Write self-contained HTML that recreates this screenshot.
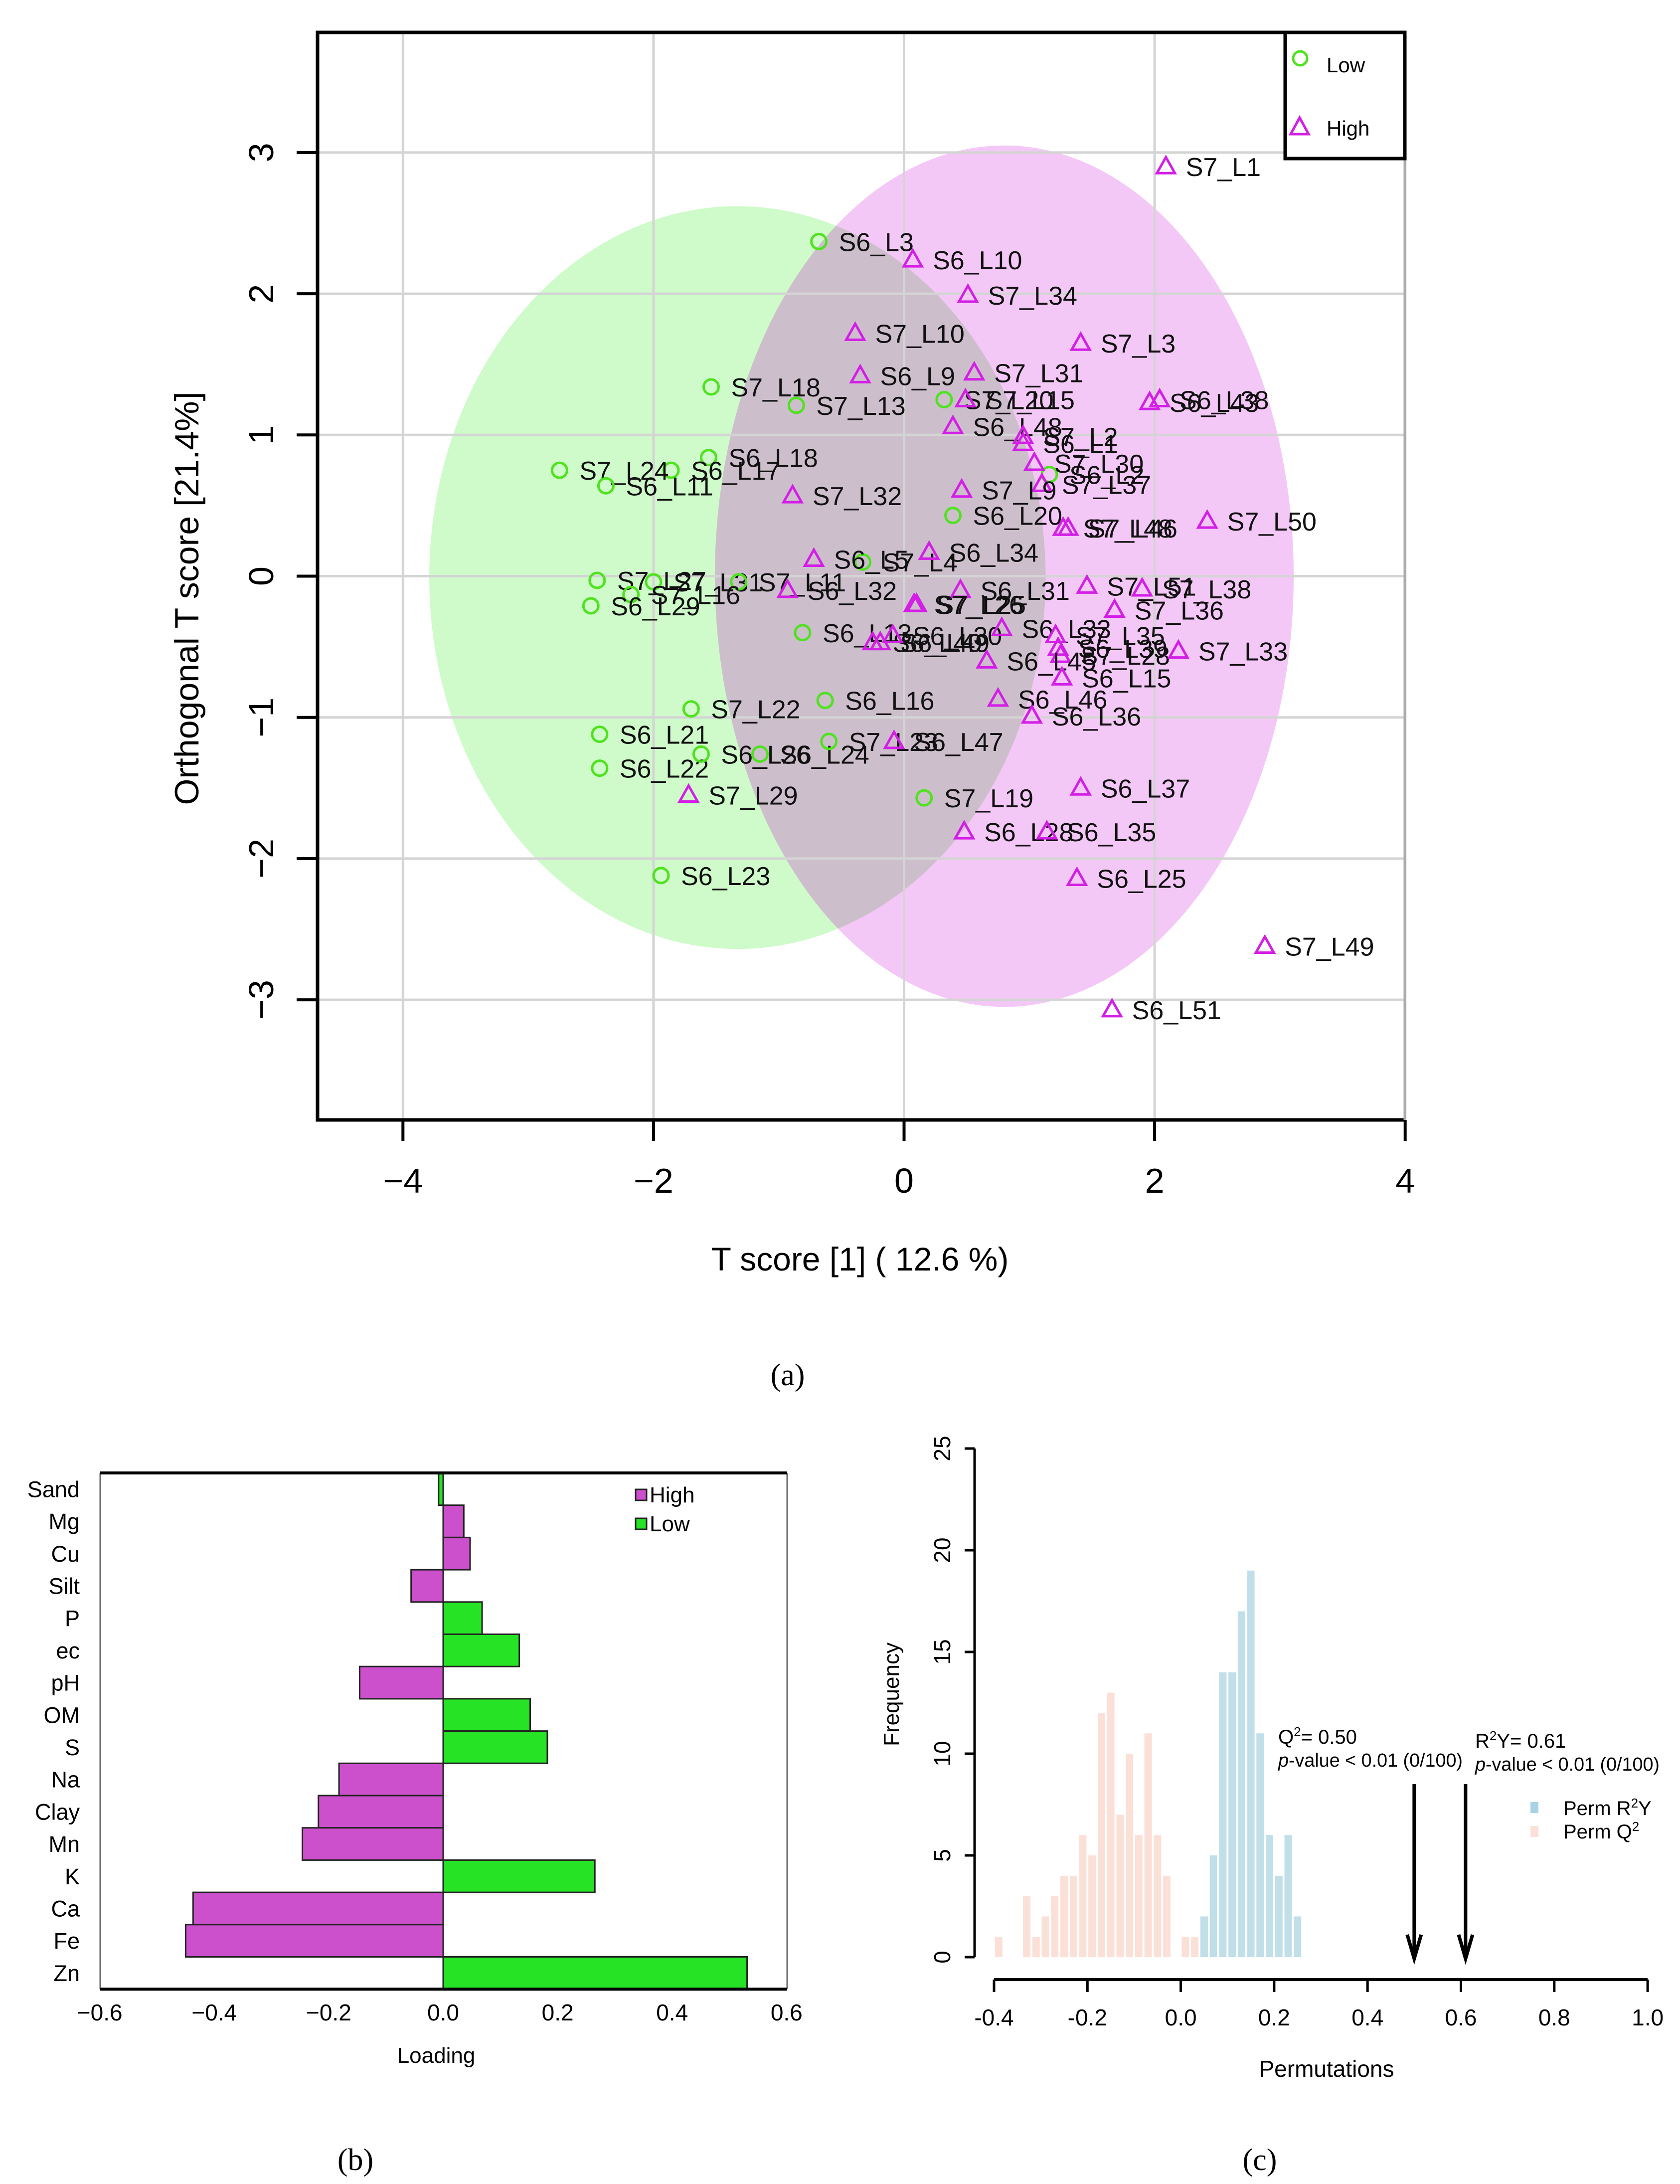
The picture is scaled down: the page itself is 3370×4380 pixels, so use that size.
<!DOCTYPE html>
<html><head><meta charset="utf-8"><style>
html,body{margin:0;padding:0;background:#fff;}
svg{display:block;}
text{font-family:"Liberation Sans",sans-serif;}
</style></head><body>
<svg id="fig" xmlns="http://www.w3.org/2000/svg" width="3370" height="4380" viewBox="0 0 3370 4380">
<rect x="0" y="0" width="3370" height="4380" fill="#fff"/>
<g id="pa"></g>
<g id="pb"></g>
<g id="pc"></g>
</svg>
<script>
// ---------- Panel (a) data ----------
const lowNames = ["S6_L3","S7_L18","S7_L13","S7_L20","S6_L18","S6_L17","S7_L24","S6_L11","S6_L20","S7_L4","S6_L2","S7_L27","S7_L31","S7_L11","S7_L16","S6_L29","S6_L13","S7_L22","S6_L16","S6_L21","S6_L22","S6_L26","S6_L24","S7_L23","S7_L19","S6_L23"];
const lowX = [-0.68,-1.54,-0.86,0.32,-1.56,-1.86,-2.75,-2.38,0.39,-0.33,1.16,-2.45,-2.00,-1.32,-2.18,-2.50,-0.81,-1.70,-0.63,-2.43,-2.43,-1.62,-1.15,-0.60,0.16,-1.94];
const lowY = [2.37,1.34,1.21,1.25,0.84,0.75,0.75,0.64,0.43,0.10,0.72,-0.03,-0.04,-0.04,-0.13,-0.21,-0.40,-0.94,-0.88,-1.12,-1.36,-1.26,-1.26,-1.17,-1.57,-2.12];
const highNames = ["S7_L1","S6_L10","S7_L34","S7_L10","S7_L3","S6_L9","S7_L31","S7_L15","S6_L43","S6_L38","S6_L48","S7_L2","S6_L1","S7_L30","S7_L37","S7_L32","S7_L9","S7_L48","S7_L46","S7_L50","S6_L34","S6_L5","S6_L32","S6_L31","S7_L26","S7_L25","S7_L51","S7_L38","S7_L36","S6_L40","S6_L49","S6_L30","S6_L33","S7_L35","S6_L39","S7_L28","S6_L45","S7_L33","S6_L15","S6_L46","S6_L36","S6_L47","S7_L29","S6_L37","S6_L28","S6_L35","S6_L25","S7_L49","S6_L51"];
const highX = [2.09,0.07,0.51,-0.39,1.41,-0.35,0.56,0.49,1.96,2.04,0.39,0.95,0.95,1.04,1.10,-0.89,0.46,1.27,1.31,2.42,0.20,-0.72,-0.93,0.45,0.08,0.10,1.46,1.90,1.68,-0.25,-0.19,-0.09,0.78,1.21,1.23,1.25,0.66,2.19,1.26,0.75,1.02,-0.08,-1.72,1.41,0.48,1.14,1.38,2.88,1.66];
const highY = [2.90,2.24,1.99,1.72,1.65,1.42,1.44,1.25,1.23,1.25,1.06,0.99,0.94,0.80,0.65,0.57,0.61,0.34,0.34,0.39,0.17,0.12,-0.10,-0.10,-0.20,-0.20,-0.07,-0.09,-0.24,-0.47,-0.47,-0.42,-0.37,-0.42,-0.51,-0.56,-0.60,-0.53,-0.72,-0.87,-0.99,-1.17,-1.55,-1.50,-1.81,-1.81,-2.14,-2.62,-3.07];
const ellipseCx = [-1.33, 0.80];
const ellipseCy = [-0.01, 0.00];
const ellipseRx = [2.46, 2.31];
const ellipseRy = [2.63, 3.05];
const aXTicks = [-4,-2,0,2,4];
const aYTicks = [-3,-2,-1,0,1,2,3];
// ---------- Panel (b) data ----------
const bCats = ["Sand","Mg","Cu","Silt","P","ec","pH","OM","S","Na","Clay","Mn","K","Ca","Fe","Zn"];
const bVals = [-0.008,0.036,0.047,-0.056,0.068,0.133,-0.146,0.152,0.182,-0.182,-0.218,-0.246,0.265,-0.437,-0.450,0.531];
const bGroup = ["Low","High","High","High","Low","Low","High","Low","Low","High","High","High","Low","High","High","Low"];
const bTicks = [-0.6,-0.4,-0.2,0.0,0.2,0.4,0.6];
// ---------- Panel (c) data ----------
const q2Bins = [-0.39,-0.33,-0.31,-0.29,-0.27,-0.25,-0.23,-0.21,-0.19,-0.17,-0.15,-0.13,-0.11,-0.09,-0.07,-0.05,-0.03,0.01,0.03,0.07];
const q2Freq = [1,3,1,2,3,4,4,6,5,12,13,7,10,6,11,6,4,1,1,1];
const r2Bins = [0.05,0.07,0.09,0.11,0.13,0.15,0.17,0.19,0.21,0.23,0.25];
const r2Freq = [2,5,14,14,17,19,11,6,4,6,2];
const cXTicks = [-0.4,-0.2,0.0,0.2,0.4,0.6,0.8,1.0];
const cYTicks = [0,5,10,15,20,25];
const obsQ2 = 0.50;
const obsR2Y = 0.61;

const NS = "http://www.w3.org/2000/svg";
function mk(parent, tag, attrs, txt){
  const e = document.createElementNS(NS, tag);
  for (const k in attrs) e.setAttribute(k, attrs[k]);
  if (txt !== undefined) e.textContent = txt;
  parent.appendChild(e);
  return e;
}
function fmtInt(v){ return (v < 0 ? "\u2212" : "") + Math.abs(v); }
function fmt(v){ const s = Math.abs(v).toFixed(1); return (v < 0 ? "\u2212" : "") + s; }
function fmtc(v){ const s = Math.abs(v).toFixed(1); return (v < 0 ? "-" : "") + s; }

// ===== Panel A =====
const pa = document.getElementById("pa");
const AX = v => 1813.5 + v * 251.3;
const AY = v => 1155.5 - v * 283.2;
const aL = 637, aR = 2818, aT = 65, aB = 2246;
const defs = mk(pa, "defs", {});
const cp = mk(defs, "clipPath", {id: "greenClip"});
mk(cp, "ellipse", {cx: AX(ellipseCx[0]), cy: AY(ellipseCy[0]), rx: ellipseRx[0]*251.3, ry: ellipseRy[0]*283.2});
let el;
el = mk(pa, "ellipse", {cx: AX(ellipseCx[0]), cy: AY(ellipseCy[0]), rx: ellipseRx[0]*251.3, ry: ellipseRy[0]*283.2, fill: "#cefbc9"});


el = mk(pa, "ellipse", {cx: AX(ellipseCx[1]), cy: AY(ellipseCy[1]), rx: ellipseRx[1]*251.3, ry: ellipseRy[1]*283.2, fill: "#f4c8f6"});


el = mk(pa, "ellipse", {cx: AX(ellipseCx[1]), cy: AY(ellipseCy[1]), rx: ellipseRx[1]*251.3, ry: ellipseRy[1]*283.2, fill: "#cdbecc", "clip-path": "url(#greenClip)"});


aXTicks.forEach(t => {
  const g = mk(pa, "line", {x1: AX(t), x2: AX(t), y1: aT, y2: aB, stroke: "#d4d4d4", "stroke-width": 5});
  
  
  const tk = mk(pa, "line", {x1: AX(t), x2: AX(t), y1: aB, y2: aB + 42, stroke: "#000", "stroke-width": 6});
  
  
  const lb = mk(pa, "text", {x: AX(t), y: 2392, "font-size": 70, "text-anchor": "middle"}, fmtInt(t));
  
  
});
aYTicks.forEach(t => {
  const g = mk(pa, "line", {x1: aL, x2: aR, y1: AY(t), y2: AY(t), stroke: "#d4d4d4", "stroke-width": 5});
  
  
  const tk = mk(pa, "line", {x1: aL - 42, x2: aL, y1: AY(t), y2: AY(t), stroke: "#000", "stroke-width": 6});
  
  
  const lb = mk(pa, "text", {x: 0, y: 0, "font-size": 70, "text-anchor": "middle", transform: `translate(548,${AY(t)}) rotate(-90)`}, fmtInt(t));
  
  
});
function lbl(x, y, name){
  const t = mk(pa, "text", {x: x + 40, y: y + 19, "font-size": 52, fill: "#111"}, name);
  
  
}
lowNames.forEach((n, i) => {
  const x = AX(lowX[i]), y = AY(lowY[i]);
  const c = mk(pa, "circle", {cx: x, cy: y, r: 15, fill: "none", stroke: "#4fe21f", "stroke-width": 5});
  
  
  lbl(x, y, n);
});
highNames.forEach((n, i) => {
  const x = AX(highX[i]), y = AY(highY[i]);
  const p = mk(pa, "polygon", {points: `${x},${y-19} ${x-18},${y+13} ${x+18},${y+13}`, fill: "none", stroke: "#d31ee6", "stroke-width": 5});
  
  
  lbl(x, y, n);
});
el = mk(pa, "path", {d: `M${aR},${aT} L${aL},${aT} L${aL},${aB} L${aR},${aB}`, fill: "none", stroke: "#000", "stroke-width": 7});


el = mk(pa, "line", {x1: aR, x2: aR, y1: aT, y2: aB, stroke: "#aaa", "stroke-width": 5});


const lg = mk(pa, "g", {});


el = mk(lg, "rect", {x: 2578, y: 65, width: 240, height: 253, fill: "#fff", stroke: "#000", "stroke-width": 7});


el = mk(lg, "circle", {cx: 2608, cy: 117, r: 14, fill: "none", stroke: "#4fe21f", "stroke-width": 5});


el = mk(lg, "text", {x: 2661, y: 145, "font-size": 42}, "Low");


el = mk(lg, "polygon", {points: "2607,236 2589,269 2625,269", fill: "none", stroke: "#d31ee6", "stroke-width": 5});


el = mk(lg, "text", {x: 2661, y: 272, "font-size": 42}, "High");


el = mk(pa, "text", {x: 1725, y: 2548, "font-size": 66, "text-anchor": "middle"}, "T score [1] ( 12.6 %)");


el = mk(pa, "text", {x: 0, y: 0, "font-size": 68, "text-anchor": "middle", transform: "translate(398,1200) rotate(-90)"}, "Orthogonal T score [21.4%]");


el = mk(pa, "text", {x: 1580, y: 2778, "font-size": 62, "text-anchor": "middle", style: "font-family:'Liberation Serif',serif"}, "(a)");



// ===== Panel B =====
const pb = document.getElementById("pb");
const BX = v => 889 + v * 1148;
const bT = 2954, bSlot = 64.7, bL = 201, bR = 1579;
const bB = bT + bSlot * bCats.length;
bCats.forEach((c, i) => {
  const v = bVals[i];
  const x0 = Math.min(BX(0), BX(v)), w = Math.abs(BX(v) - BX(0));
  const y = bT + i * bSlot;
  const r = mk(pb, "rect", {x: x0, y: y, width: Math.max(w, 3), height: bSlot, fill: bGroup[i] === "High" ? "#cc50cc" : "#26e326", stroke: "#222", "stroke-width": 3});
  
  
  const t = mk(pb, "text", {x: 160, y: y + bSlot/2 + 16, "font-size": 45, "text-anchor": "end"}, c);
  
  
});
el = mk(pb, "line", {x1: bL, x2: bL, y1: bT, y2: bB, stroke: "#666", "stroke-width": 3});


el = mk(pb, "line", {x1: bR, x2: bR, y1: bT, y2: bB, stroke: "#666", "stroke-width": 3});


el = mk(pb, "line", {x1: bL, x2: bR, y1: bT, y2: bT, stroke: "#000", "stroke-width": 6});


el = mk(pb, "line", {x1: bL, x2: bR, y1: bB, y2: bB, stroke: "#000", "stroke-width": 6});


bTicks.forEach(t => {
  const l = mk(pb, "text", {x: BX(t), y: 4052, "font-size": 46, "text-anchor": "middle"}, fmt(t));
  
  
});
el = mk(pb, "text", {x: 875, y: 4137, "font-size": 44, "text-anchor": "middle"}, "Loading");


el = mk(pb, "rect", {x: 1275, y: 2987, width: 22, height: 22, fill: "#cc50cc", stroke: "#222", "stroke-width": 3});


el = mk(pb, "text", {x: 1303, y: 3013, "font-size": 44}, "High");


el = mk(pb, "rect", {x: 1275, y: 3045, width: 22, height: 22, fill: "#26e326", stroke: "#222", "stroke-width": 3});


el = mk(pb, "text", {x: 1303, y: 3071, "font-size": 44}, "Low");


el = mk(pb, "text", {x: 713, y: 4352, "font-size": 62, "text-anchor": "middle", style: "font-family:'Liberation Serif',serif"}, "(b)");



// ===== Panel C =====
const pc = document.getElementById("pc");
const CX = v => 1994 + (v + 0.4) * 936.5;
const CY = f => 3925 - f * 40.8;
const bw = 15;
q2Bins.forEach((b, i) => {
  const r = mk(pc, "rect", {x: CX(b) - bw/2, y: CY(q2Freq[i]), width: bw, height: CY(0) - CY(q2Freq[i]), fill: "#fbe0d8"});
  
  
});
r2Bins.forEach((b, i) => {
  const r = mk(pc, "rect", {x: CX(b) - bw/2, y: CY(r2Freq[i]), width: bw, height: CY(0) - CY(r2Freq[i]), fill: "#bddde8", opacity: 0.95});
  
  
});
el = mk(pc, "line", {x1: 1955, x2: 1955, y1: CY(0), y2: CY(25), stroke: "#000", "stroke-width": 5});


cYTicks.forEach(t => {
  const k = mk(pc, "line", {x1: 1935, x2: 1955, y1: CY(t), y2: CY(t), stroke: "#000", "stroke-width": 5});
  
  
  const l = mk(pc, "text", {x: 0, y: 0, "font-size": 46, "text-anchor": "middle", transform: `translate(1906,${CY(t)}) rotate(-90)`}, String(t));
  
  
});
el = mk(pc, "line", {x1: CX(-0.4), x2: CX(1.0), y1: 3970, y2: 3970, stroke: "#000", "stroke-width": 6});


cXTicks.forEach(t => {
  const k = mk(pc, "line", {x1: CX(t), x2: CX(t), y1: 3970, y2: 3995, stroke: "#000", "stroke-width": 5});
  
  
  const l = mk(pc, "text", {x: CX(t), y: 4062, "font-size": 46, "text-anchor": "middle"}, fmtc(t));
  
  
});
el = mk(pc, "text", {x: 0, y: 0, "font-size": 44, "text-anchor": "middle", transform: "translate(1803,3398) rotate(-90)"}, "Frequency");


el = mk(pc, "text", {x: 2661, y: 4165, "font-size": 46, "text-anchor": "middle"}, "Permutations");


[obsQ2, obsR2Y].forEach((v, i) => {
  const x = CX(v);
  const a = mk(pc, "line", {x1: x, x2: x, y1: 3578, y2: 3915, stroke: "#000", "stroke-width": 7});
  
  
  const h = mk(pc, "path", {d: `M${x-14},3880 L${x},3928 L${x+14},3880`, fill: "none", stroke: "#000", "stroke-width": 7});
  
  
});
el = mk(pc, "text", {x: 2564, y: 3497, "font-size": 40}, "");
el.innerHTML = 'Q<tspan baseline-shift="super" font-size="26">2</tspan>= 0.50';


el = mk(pc, "text", {x: 2564, y: 3543, "font-size": 38, textLength: 370, lengthAdjust: "spacingAndGlyphs"}, "");
el.innerHTML = '<tspan font-style="italic">p</tspan>-value &lt; 0.01 (0/100)';


el = mk(pc, "text", {x: 2959, y: 3505, "font-size": 40}, "");
el.innerHTML = 'R<tspan baseline-shift="super" font-size="26">2</tspan>Y= 0.61';


el = mk(pc, "text", {x: 2959, y: 3551, "font-size": 38, textLength: 370, lengthAdjust: "spacingAndGlyphs"}, "");
el.innerHTML = '<tspan font-style="italic">p</tspan>-value &lt; 0.01 (0/100)';


el = mk(pc, "rect", {x: 3070, y: 3614, width: 16, height: 22, fill: "#a9d3e2"});


el = mk(pc, "text", {x: 3136, y: 3640, "font-size": 40}, "");
el.innerHTML = 'Perm R<tspan baseline-shift="super" font-size="26">2</tspan>Y';


el = mk(pc, "rect", {x: 3070, y: 3662, width: 16, height: 22, fill: "#fbe0d8"});


el = mk(pc, "text", {x: 3136, y: 3687, "font-size": 40}, "");
el.innerHTML = 'Perm Q<tspan baseline-shift="super" font-size="26">2</tspan>';


el = mk(pc, "text", {x: 2527, y: 4352, "font-size": 62, "text-anchor": "middle", style: "font-family:'Liberation Serif',serif"}, "(c)");


</script>
</body></html>
